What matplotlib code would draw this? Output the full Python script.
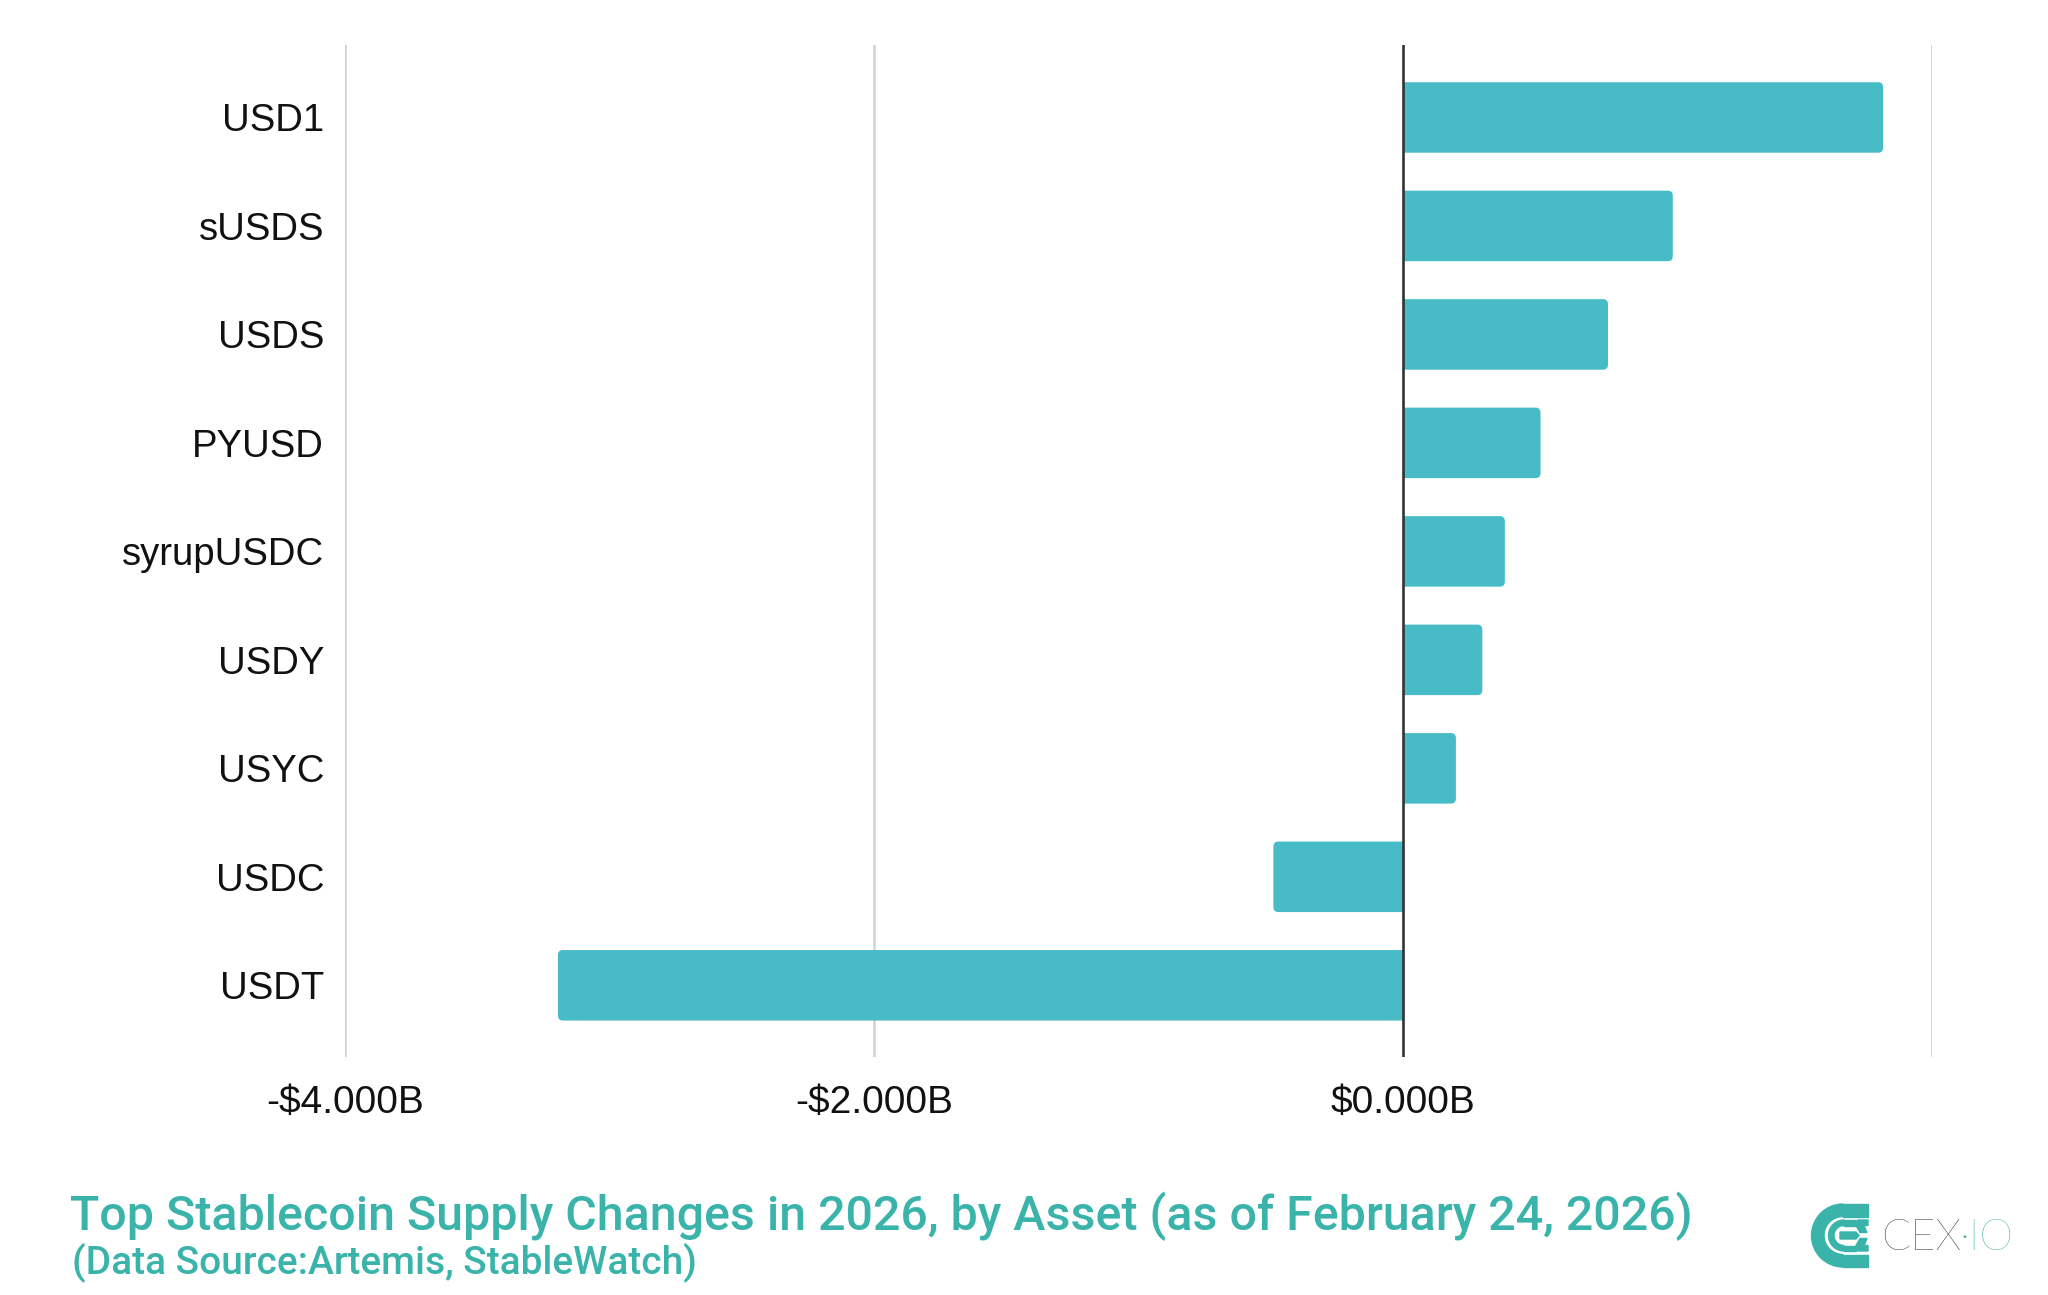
import matplotlib
matplotlib.use("Agg")
import matplotlib.pyplot as plt
from matplotlib.patches import Wedge, Rectangle, Polygon, PathPatch
from matplotlib.path import Path

# ---- data ----
assets = ["USD1", "sUSDS", "USDS", "PYUSD", "syrupUSDC", "USDY", "USYC", "USDC", "USDT"]
changes_b = [1.815, 1.02, 0.775, 0.52, 0.385, 0.30, 0.20, -0.49, -3.195]
tick_values = [-4, -2, 0, 2]
tick_labels = ["-$4.000B", "-$2.000B", "$0.000B", ""]
title = "Top Stablecoin Supply Changes in 2026, by Asset (as of February 24, 2026)"
subtitle = "(Data Source:Artemis, StableWatch)"

BAR = "#48BCC6"
TEAL = "#3AB4AA"
W, H = 2048, 1295
fig = plt.figure(figsize=(W / 100, H / 100), dpi=100)
fig.patch.set_facecolor("white")

ax = fig.add_axes([345 / W, 1 - 1057 / H, (1932 - 345) / W, (1057 - 45) / H])
ypos = list(range(len(assets)))
bars = ax.barh(ypos, changes_b, height=0.65, color=BAR, zorder=3)
ax.set_ylim(len(assets) - 1 + 0.661, -0.668)
ax.set_xlim(-4, 2)

# rounded outer ends (radius ~5px), square at the zero side
rx = 5 / 264.4
ry = 5 / 108.5
for rect in bars:
    a = rect.get_x()
    b = a + rect.get_width()
    y0 = rect.get_y()
    y1 = y0 + rect.get_height()
    s = 1 if b >= a else -1
    rect.set_visible(False)
    verts = [(a, y0), (b - s * rx, y0), (b, y0), (b, y0 + ry), (b, y1 - ry),
             (b, y1), (b - s * rx, y1), (a, y1), (a, y0)]
    codes = [Path.MOVETO, Path.LINETO, Path.CURVE3, Path.CURVE3, Path.LINETO,
             Path.CURVE3, Path.CURVE3, Path.LINETO, Path.CLOSEPOLY]
    ax.add_patch(PathPatch(Path(verts, codes), facecolor=BAR, edgecolor="none", zorder=3))

for v in tick_values:
    if v == 0:
        ax.axvline(v, color="#333333", lw=1.9, zorder=4)
    else:
        ax.axvline(v, color="#D3D3D3", lw=1.9, zorder=1)

for s_ in ax.spines.values():
    s_.set_visible(False)
ax.set_yticks(ypos)
ax.set_yticklabels(assets, fontfamily="Liberation Sans", fontsize=27.5, color="#111111")
ax.set_xticks(tick_values)
ax.set_xticklabels(tick_labels, fontfamily="Liberation Sans", fontsize=28, color="#111111")
ax.tick_params(axis="y", length=0, pad=15)
ax.tick_params(axis="x", length=0, pad=20)

# ---- title & subtitle ----
fig.text(70 / W, 1 - 1230 / H, title, fontfamily="Roboto", fontweight="medium",
         fontsize=34.8, color=TEAL, ha="left", va="baseline")
fig.text(72 / W, 1 - 1273 / H, subtitle, fontfamily="Roboto", fontweight="medium",
         fontsize=28, color=TEAL, ha="left", va="baseline")

# ---- logo ----
lax = fig.add_axes([0, 0, 1, 1], facecolor="none")
lax.set_xlim(0, W)
lax.set_ylim(H, 0)
lax.axis("off")
cx, cy = 1843, 1235.5
R, tw = 31.5, 12.5
xr = 1868
lax.add_patch(Wedge((cx, cy), R, 90, 270, width=tw, color=TEAL))
lax.add_patch(Rectangle((cx - 0.5, cy - R), xr - cx + 0.5, tw, color=TEAL))
lax.add_patch(Rectangle((cx - 0.5, cy + R - tw), xr - cx + 0.5, tw, color=TEAL))
r2, w2 = 15.5, 5.5
lax.add_patch(Wedge((cx + 1, cy), r2, 90, 270, width=w2, color=TEAL))
lax.add_patch(Rectangle((cx + 0.5, cy - r2), 12, w2, color=TEAL))
lax.add_patch(Rectangle((cx + 0.5, cy + r2 - w2), 12, w2, color=TEAL))
lax.add_patch(Polygon([(cx + 15, cy - r2), (xr, cy - r2), (xr, cy - r2 + w2),
                       (xr - 4, cy - r2 + w2), (xr - 1, cy - 3), (xr - 8, cy - 3),
                       (cx + 13, cy - r2 + w2)], color=TEAL))
lax.add_patch(Polygon([(cx + 15, cy + r2), (xr, cy + r2), (xr, cy + r2 - w2),
                       (xr - 4, cy + r2 - w2), (xr - 1, cy + 3), (xr - 8, cy + 3),
                       (cx + 13, cy + r2 - w2)], color=TEAL))
lax.add_patch(Polygon([(cx - 3, cy - 3.5), (xr - 12, cy - 3.5), (xr - 9, cy),
                       (xr - 12, cy + 3.5), (cx - 3, cy + 3.5)], color=TEAL))
t1 = lax.text(1881, 1249.5, "CEX", fontfamily="Lato", fontweight="light", fontsize=31,
              color="#0E2426", ha="left", va="baseline")
lax.annotate("·IO", xy=(1, 0), xycoords=t1, xytext=(-1, 0), textcoords="offset points",
             fontfamily="Lato", fontweight="light", fontsize=31, color="#2FA9A0",
             ha="left", va="bottom")

fig.savefig("out.png", dpi=100, facecolor="white")
